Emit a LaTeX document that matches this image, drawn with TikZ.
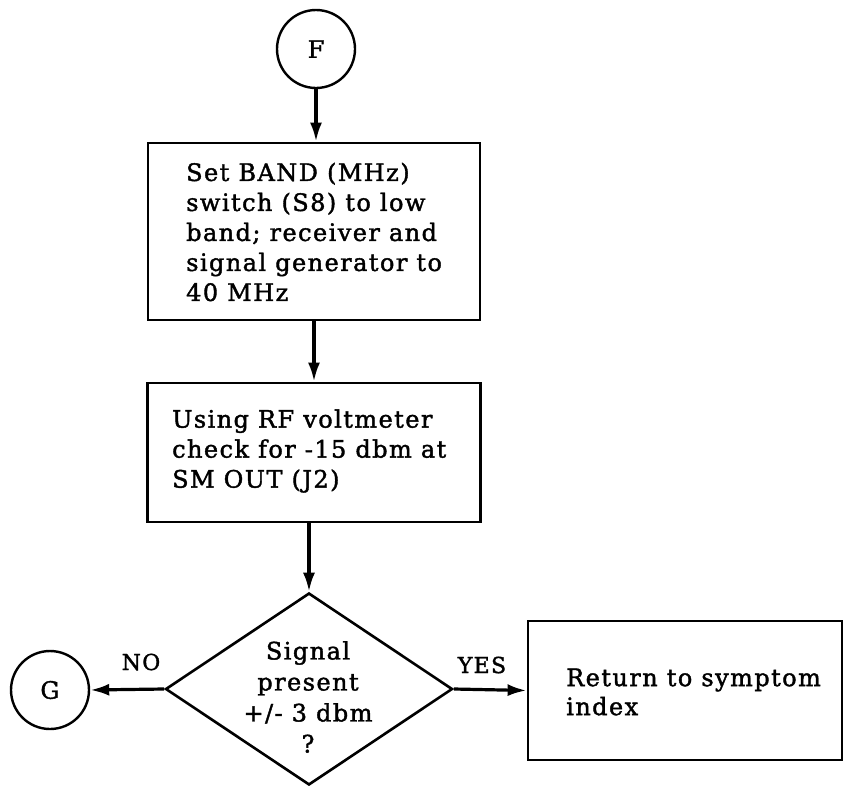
\documentclass[tikz,border=0pt]{standalone}
\usepackage{fontspec}
\setmainfont{DejaVu Serif}[LetterSpace=6, FakeBold=1.6]
\usetikzlibrary{arrows.meta,shapes.geometric}
\begin{document}
\begin{tikzpicture}[x=1pt,y=-1pt,
  box/.style={draw, rectangle, line width=2.8pt, inner sep=0pt},
  conn/.style={line width=3.2pt, -{Latex[length=19pt,width=12pt]}},
  circ/.style={draw, circle, line width=2.4pt, minimum size=78pt, inner sep=0pt, font=\fontsize{24}{28}\selectfont},
  txt/.style={align=left, inner sep=0pt, font=\fontsize{24}{30}\selectfont},
  dtxt/.style={align=center, inner sep=0pt, font=\fontsize{24}{31}\selectfont},
  lbl/.style={inner sep=0pt, font=\fontsize{22}{26}\selectfont}]
\useasboundingbox (0,0) rectangle (846,785);

\node[circ] (F) at (316,49) {F};
\node[box, minimum width=332pt, minimum height=177pt] (b1) at (314,231.5) {};
\node[txt, anchor=west] (b1t) at (186,232) {Set BAND (MHz)\\switch (S8) to low\\band; receiver and\\signal generator to\\40 MHz};
\node[box, minimum width=333pt, minimum height=139pt] (b2) at (314,452.5) {};
\node[txt, anchor=west] (b2t) at (172,451) {Using RF voltmeter\\check for -15 dbm at\\SM OUT (J2)};
\node[diamond, draw, line width=2.6pt, minimum width=287pt, minimum height=192pt, inner sep=0pt] (d) at (309,689) {};
\node[dtxt] (dt) at (308,697) {Signal\\present\\+/- 3 dbm\\?};
\node[circ] (G) at (50,690) {G};
\node[box, minimum width=314pt, minimum height=139pt] (b3) at (685,690.5) {};
\node[txt, anchor=west, font=\fontsize{24}{29}\selectfont] (b3t) at (566,692) {Return to symptom\\index};
\node[lbl] (no) at (141,662) {NO};
\node[lbl] (yes) at (482,665) {YES};

\draw[conn] (F.south) -- (F.south |- b1.north);
\draw[conn] (b1.south) -- (b2.north);
\draw[conn] (b2.south -| d.north) -- (d.north);
\draw[conn] (d.west) -- (G.east);
\draw[conn] (d.east) -- (b3.west);
\end{tikzpicture}
\end{document}
